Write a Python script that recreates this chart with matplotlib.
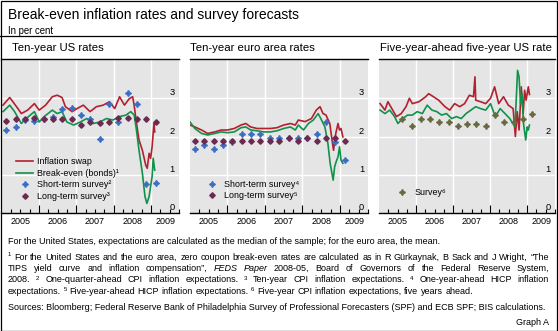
import matplotlib
matplotlib.use("Agg")
import matplotlib.pyplot as plt
from matplotlib.lines import Line2D
from matplotlib.patches import Rectangle
from matplotlib.transforms import blended_transform_factory, offset_copy

plt.rcParams["font.family"] = ["Liberation Sans", "DejaVu Sans"]

# ---- Ten-year US rates ----
us_swap_t = [2005.04, 2005.22, 2005.44, 2005.53, 2005.70, 2005.88, 2006.01, 2006.18, 2006.36,
             2006.49, 2006.62, 2006.71, 2006.89, 2007.02, 2007.19, 2007.37, 2007.54, 2007.72,
             2007.89, 2008.03, 2008.16, 2008.29, 2008.42, 2008.51, 2008.55, 2008.60, 2008.68,
             2008.77, 2008.86, 2008.90, 2008.95, 2008.99, 2009.03, 2009.08, 2009.10]
us_swap = [2.82, 3.02, 2.73, 2.60, 2.69, 2.86, 2.69, 2.82, 3.04, 3.08, 3.02, 2.78, 2.65, 2.73,
           2.82, 2.65, 2.78, 2.82, 2.91, 2.73, 3.04, 2.82, 2.99, 3.04, 2.82, 2.43, 1.91, 1.64,
           1.25, 1.17, 1.56, 1.43, 1.73, 2.34, 2.12]
us_be_t = [2005.04, 2005.22, 2005.35, 2005.53, 2005.66, 2005.88, 2006.01, 2006.14, 2006.36,
           2006.49, 2006.62, 2006.75, 2006.93, 2007.11, 2007.28, 2007.46, 2007.63, 2007.81,
           2007.98, 2008.16, 2008.33, 2008.46, 2008.55, 2008.60, 2008.68, 2008.77, 2008.84,
           2008.89, 2008.95, 2008.99, 2009.03, 2009.06, 2009.10]
us_be = [2.65, 2.82, 2.65, 2.34, 2.47, 2.65, 2.38, 2.52, 2.69, 2.60, 2.65, 2.38, 2.30, 2.38,
         2.47, 2.34, 2.38, 2.47, 2.43, 2.52, 2.56, 2.65, 2.56, 2.25, 1.64, 1.04, 0.43, 0.25,
         0.43, 0.69, 0.95, 1.43, 1.12]

survey_t = [2005.13, 2005.38, 2005.63, 2005.88, 2006.13, 2006.38, 2006.63, 2006.88, 2007.13,
            2007.38, 2007.63, 2007.88, 2008.13, 2008.38, 2008.63, 2008.88, 2009.13]
us_short = [2.17, 2.25, 2.43, 2.41, 2.45, 2.50, 2.73, 2.75, 2.56, 2.45, 1.93, 2.86, 2.38,
            3.15, 2.86, 0.77, 0.79]
us_long = [2.41, 2.47, 2.47, 2.48, 2.47, 2.47, 2.47, 2.47, 2.30, 2.38, 2.35, 2.38, 2.49,
           2.49, 2.47, 2.47, 2.38]

# ---- Ten-year euro area rates ----
ea_swap_t = [2005.00, 2005.13, 2005.31, 2005.47, 2005.66, 2005.83, 2006.00, 2006.18, 2006.36,
             2006.49, 2006.62, 2006.79, 2006.97, 2007.15, 2007.32, 2007.50, 2007.68, 2007.81,
             2007.89, 2008.07, 2008.24, 2008.37, 2008.47, 2008.55, 2008.63, 2008.73, 2008.79,
             2008.83, 2008.89, 2008.95, 2008.99, 2009.03, 2009.08]
ea_swap = [2.30, 2.25, 2.17, 2.08, 2.12, 2.17, 2.17, 2.21, 2.30, 2.34, 2.25, 2.21, 2.21, 2.21,
           2.23, 2.30, 2.34, 2.30, 2.43, 2.39, 2.47, 2.69, 2.78, 2.60, 2.56, 2.34, 1.91, 1.64,
           2.08, 2.34, 2.17, 2.21, 1.99]
ea_be_t = [2005.00, 2005.13, 2005.31, 2005.47, 2005.66, 2005.83, 2006.00, 2006.18, 2006.36,
           2006.49, 2006.62, 2006.79, 2006.97, 2007.15, 2007.32, 2007.50, 2007.68, 2007.81,
           2007.89, 2008.03, 2008.16, 2008.29, 2008.42, 2008.51, 2008.60, 2008.68, 2008.74,
           2008.82, 2008.86, 2008.90, 2008.95, 2008.99, 2009.03, 2009.08]
ea_be = [2.38, 2.21, 2.08, 2.04, 2.08, 2.12, 2.10, 2.12, 2.23, 2.25, 2.17, 2.15, 2.12, 2.12,
         2.15, 2.21, 2.25, 2.17, 2.30, 2.17, 2.34, 2.43, 2.60, 2.43, 2.25, 1.82, 1.30, 0.86,
         1.21, 1.34, 1.47, 1.73, 1.38, 1.30]
ea_short = [1.67, 1.78, 1.67, 1.78, 1.86, 2.06, 2.06, 2.06, 1.97, 1.97, 1.97, 1.97, 1.97,
            2.06, 2.37, 1.86, 1.38]
ea_long = [1.87, 1.87, 1.87, 1.87, 1.87, 1.87, 1.87, 1.87, 1.87, 1.87, 1.95, 1.87, 1.95,
           1.87, 1.95, 1.95, 1.87]

# ---- Five-year-ahead five-year US rate ----
fw_swap_t = [2005.03, 2005.16, 2005.24, 2005.37, 2005.47, 2005.60, 2005.73, 2005.82, 2005.90,
             2006.08, 2006.26, 2006.34, 2006.47, 2006.61, 2006.78, 2006.91, 2007.04, 2007.18,
             2007.31, 2007.44, 2007.55, 2007.59, 2007.61, 2007.74, 2007.88, 2008.01, 2008.12,
             2008.23, 2008.36, 2008.49, 2008.62, 2008.68, 2008.73, 2008.78, 2008.84, 2008.89,
             2008.93, 2008.97, 2009.03, 2009.06]
fw_swap = [2.86, 2.69, 2.91, 2.69, 2.52, 2.60, 2.78, 3.00, 2.86, 2.91, 3.04, 3.12, 3.04, 2.95,
           2.78, 2.69, 2.86, 2.78, 2.86, 3.08, 3.04, 3.56, 2.95, 2.91, 2.86, 3.00, 3.30, 2.86,
           3.04, 2.82, 2.73, 2.00, 2.65, 2.17, 3.30, 2.60, 3.21, 2.95, 3.30, 3.10]
fw_be_t = [2005.03, 2005.16, 2005.29, 2005.42, 2005.51, 2005.64, 2005.77, 2005.90, 2006.03,
           2006.17, 2006.30, 2006.43, 2006.56, 2006.69, 2006.82, 2006.96, 2007.09, 2007.22,
           2007.35, 2007.48, 2007.61, 2007.74, 2007.88, 2008.01, 2008.14, 2008.27, 2008.40,
           2008.53, 2008.67, 2008.74, 2008.78, 2008.82, 2008.86, 2008.90, 2008.96, 2009.00,
           2009.03, 2009.06]
fw_be = [2.69, 2.60, 2.69, 2.52, 2.34, 2.47, 2.56, 2.56, 2.65, 2.60, 2.82, 2.69, 2.65, 2.56,
         2.60, 2.47, 2.52, 2.47, 2.60, 2.69, 2.78, 2.73, 2.69, 2.86, 2.52, 2.73, 2.60, 2.47,
         2.25, 3.73, 3.56, 2.86, 3.12, 2.34, 1.91, 2.25, 2.17, 2.30]
fw_survey_t = [2005.63, 2005.88, 2006.13, 2006.38, 2006.63, 2006.88, 2007.13, 2007.38,
               2007.63, 2007.88, 2008.13, 2008.38, 2008.63, 2008.88, 2009.13]
fw_survey = [2.45, 2.27, 2.45, 2.45, 2.37, 2.37, 2.27, 2.32, 2.32, 2.27, 2.56, 2.37, 2.37,
             2.45, 2.60]

years = [2005, 2006, 2007, 2008, 2009]
y_levels = [0, 1, 2, 3]

SWAP = "#b3202f"
BE = "#10924a"
SHORT = "#3b6fc4"
LONG = "#6b2b50"
SURV = "#6a6a40"
BG = "#e5e5e5"

W, H = 558, 331
fig = plt.figure(figsize=(W / 100, H / 100), dpi=100)


def px_rect(x0, x1, top, bottom):
    return [x0 / W, 1 - bottom / H, (x1 - x0) / W, (bottom - top) / H]


def setup(ax, title, title_x):
    ax.set_facecolor(BG)
    ax.set_xlim(2005, 2009.68)
    ax.set_ylim(0, 4.04)
    ax.spines["left"].set_visible(False)
    ax.spines["right"].set_visible(False)
    ax.spines["top"].set_linewidth(1.0)
    ax.spines["bottom"].set_linewidth(1.0)
    ax.set_xticks(years[1:])
    ax.set_xticks([y + q for y in years for q in (0.25, 0.5, 0.75)], minor=True)
    ax.set_yticks(y_levels[1:])
    ax.tick_params(axis="x", which="major", direction="in", length=6, width=0.8,
                   labelbottom=False)
    ax.tick_params(axis="x", which="minor", direction="in", length=3, width=0.8)
    ax.tick_params(axis="y", length=0, labelleft=False)
    ax.grid(True, which="major", color="white", linewidth=1.0)
    ax.set_axisbelow(True)

    lab = blended_transform_factory(ax.transData, ax.transAxes)
    for yr in years:
        xc = min(yr + 0.5, 2009.38)
        ax.text(xc, 0, str(yr), transform=offset_copy(lab, fig=fig, y=-4, units="dots"),
                ha="center", va="top", fontsize=6.5)
    ylab = blended_transform_factory(ax.transAxes, ax.transData)
    for v in y_levels:
        ax.text(1, v, str(v), transform=offset_copy(ylab, fig=fig, x=-4, y=1, units="dots"),
                ha="right", va="bottom", fontsize=6.7)
    fig.text(title_x / W, 1 - 48 / H, title, fontsize=8.2, va="center")


TOP, BOTTOM = 58.5, 213
ax1 = fig.add_axes(px_rect(1.5, 179, TOP, BOTTOM))
ax2 = fig.add_axes(px_rect(190, 368, TOP, BOTTOM))
ax3 = fig.add_axes(px_rect(379, 555, TOP, BOTTOM))
setup(ax1, "Ten-year US rates", 12)
setup(ax2, "Ten-year euro area rates", 190)
setup(ax3, "Five-year-ahead five-year US rate", 380)

line_kw = dict(linewidth=1.2, solid_joinstyle="round")
short_kw = dict(linestyle="none", marker=(4, 1, 0), markersize=4.3, color=SHORT)
long_kw = dict(linestyle="none", marker="D", markersize=2.8, color=LONG)

ax1.plot(us_swap_t, us_swap, color=SWAP, label="Inflation swap", **line_kw)
ax1.plot(us_be_t, us_be, color=BE, label="Break-even (bonds)\u00b9", **line_kw)
ax1.plot(survey_t, us_short, label="Short-term survey\u00b2", **short_kw)
ax1.plot(survey_t, us_long, label="Long-term survey\u00b3", **long_kw)

ax2.plot(ea_swap_t, ea_swap, color=SWAP, **line_kw)
ax2.plot(ea_be_t, ea_be, color=BE, **line_kw)
ax2.plot(survey_t, ea_short, label="Short-term survey\u2074", **short_kw)
ax2.plot(survey_t, ea_long, label="Long-term survey\u2075", **long_kw)

ax3.plot(fw_swap_t, fw_swap, color=SWAP, **line_kw)
ax3.plot(fw_be_t, fw_be, color=BE, **line_kw)
ax3.plot(fw_survey_t, fw_survey, linestyle="none", marker=(4, 1, 0), markersize=4.3,
         color=SURV, label="Survey\u2076")

leg_kw = dict(loc="lower left", frameon=False, fontsize=6.4, handlelength=2.0,
              handletextpad=0.4, labelspacing=0.27, borderpad=0, borderaxespad=0,
              numpoints=1)
ax1.legend(bbox_to_anchor=(0.08, 0.08), **leg_kw)
ax2.legend(bbox_to_anchor=(0.073, 0.084), **leg_kw)
ax3.legend(bbox_to_anchor=(0.08, 0.105), **leg_kw)

# header
fig.text(8 / W, 1 - 15 / H, "Break-even inflation rates and survey forecasts",
         fontsize=10.0, va="center")
fig.text(8 / W, 1 - 30.5 / H, "In per cent", fontsize=6.9, va="center")
fig.add_artist(Line2D([0, 1], [1 - 36 / H] * 2, color="black", linewidth=0.9))
fig.add_artist(Rectangle((0.5 / W, 0.5 / H), (W - 1.5) / W, (H - 1.5) / H,
                         transform=fig.transFigure, fill=False, edgecolor="black",
                         linewidth=0.9))

# footnotes
FS = 6.5
renderer = fig.canvas.get_renderer()


def words_line(y, text, x0=8, x1=549, justify=True):
    items = []
    for w in text.split():
        if w.startswith("^"):
            t = fig.text(0, 0, w[1:], fontsize=FS * 0.68, va="baseline")
            dy = 3
        elif w.startswith("*") or w.endswith("*"):
            t = fig.text(0, 0, w.strip("*"), fontsize=FS, style="italic", va="baseline")
            dy = 0
        else:
            t = fig.text(0, 0, w, fontsize=FS, va="baseline")
            dy = 0
        items.append((t, dy, t.get_window_extent(renderer).width))
    if justify:
        gap = (x1 - x0 - sum(i[2] for i in items)) / (len(items) - 1)
    else:
        probe = fig.text(0, 0, "a a", fontsize=FS)
        probe2 = fig.text(0, 0, "aa", fontsize=FS)
        gap = probe.get_window_extent(renderer).width - probe2.get_window_extent(renderer).width
        probe.remove()
        probe2.remove()
    x = x0
    for t, dy, w in items:
        t.set_position((x / W, 1 - (y - dy) / H))
        x += w + gap


fig.text(8 / W, 1 - 243.5 / H,
         "For the United States, expectations are calculated as the median of the sample; "
         "for the euro area, the mean.", fontsize=FS, va="baseline")
words_line(259.5, "^1 For the United States and the euro area, zero coupon break-even rates "
                  "are calculated as in R Gürkaynak, B Sack and J Wright, \u201cThe")
words_line(271, "TIPS yield curve and inflation compensation\u201d, *FEDS Paper* 2008-05, "
                "Board of Governors of the Federal Reserve System,")
words_line(282.5, "2008. ^2 One-quarter-ahead CPI inflation expectations. ^3 Ten-year CPI "
                  "inflation expectations. ^4 One-year-ahead HICP inflation")
words_line(294, "expectations. ^5 Five-year-ahead HICP inflation expectations. ^6 Five-year "
                "CPI inflation expectations, five years ahead.", justify=False)
fig.text(8 / W, 1 - 310 / H,
         "Sources: Bloomberg; Federal Reserve Bank of Philadelphia Survey of Professional "
         "Forecasters (SPF) and ECB SPF; BIS calculations.", fontsize=FS, va="baseline")
fig.text(549 / W, 1 - 325 / H, "Graph A", fontsize=FS, va="baseline", ha="right")

fig.savefig("out.png", dpi=100)
